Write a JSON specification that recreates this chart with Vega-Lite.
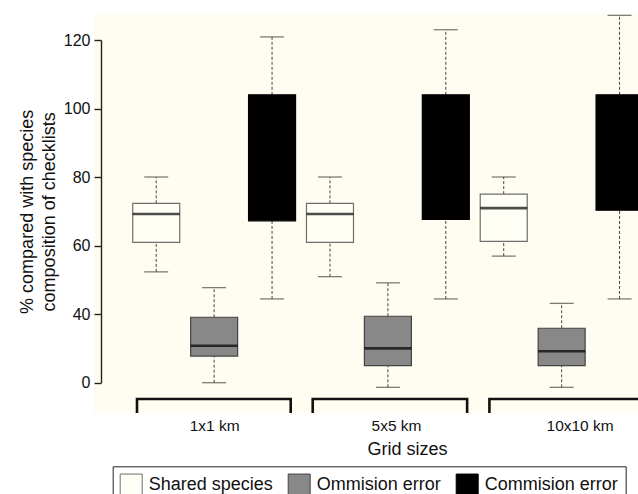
{
  "$schema": "https://vega.github.io/schema/vega-lite/v6.json",
  "width": 544,
  "height": 400,
  "autosize": {"type": "none"},
  "padding": {"left": 94, "top": 13, "right": 0, "bottom": 81},
  "background": "white",
  "config": {
    "font": "Liberation Sans",
    "view": {"fill": "#fffdf1", "stroke": null}
  },
  "datasets": {
    "stats": [
      {"grid": "1x1 km", "type": "Shared species", "pos": 1, "lower": 52.3, "q1": 60.9, "median": 69.2, "q3": 72.3, "upper": 80.0},
      {"grid": "1x1 km", "type": "Ommision error", "pos": 2, "lower": 0.0, "q1": 15.5, "median": 21.5, "q3": 38.1, "upper": 47.7},
      {"grid": "1x1 km", "type": "Commision error", "pos": 3, "lower": 44.4, "q1": 67.2, "median": 86.0, "q3": 104.0, "upper": 120.9},
      {"grid": "5x5 km", "type": "Shared species", "pos": 4, "lower": 50.9, "q1": 60.9, "median": 69.2, "q3": 72.3, "upper": 80.0},
      {"grid": "5x5 km", "type": "Ommision error", "pos": 5, "lower": -2.7, "q1": 9.9, "median": 20.0, "q3": 38.7, "upper": 49.1},
      {"grid": "5x5 km", "type": "Commision error", "pos": 6, "lower": 44.4, "q1": 67.6, "median": 86.0, "q3": 104.0, "upper": 123.0},
      {"grid": "10x10 km", "type": "Shared species", "pos": 7, "lower": 56.9, "q1": 61.2, "median": 70.9, "q3": 75.0, "upper": 80.0},
      {"grid": "10x10 km", "type": "Ommision error", "pos": 8, "lower": -2.7, "q1": 9.9, "median": 18.3, "q3": 31.7, "upper": 43.1},
      {"grid": "10x10 km", "type": "Commision error", "pos": 9, "lower": 44.4, "q1": 70.3, "median": 88.0, "q3": 104.0, "upper": 127.2}
    ],
    "groups": [
      {"grid": "1x1 km", "pos": 0.668, "end": 3.322},
      {"grid": "5x5 km", "pos": 3.702, "end": 6.368},
      {"grid": "10x10 km", "pos": 6.753, "end": 9.407}
    ]
  },
  "encoding": {
    "x": {
      "field": "pos",
      "type": "quantitative",
      "scale": {"domain": [0.012, 9.232], "nice": false, "zero": false},
      "axis": {
        "values": [2, 5.14, 8.31],
        "labelExpr": "datum.value < 3 ? '1x1 km' : datum.value < 6 ? '5x5 km' : '10x10 km'",
        "ticks": false,
        "domain": false,
        "grid": false,
        "labelFlush": false,
        "labelOverlap": false,
        "labelFontSize": 15.5,
        "labelColor": "#111",
        "labelBaseline": "middle",
        "labelPadding": 12,
        "title": "Grid sizes",
        "titleFontSize": 18,
        "titleFontWeight": "normal",
        "titleColor": "#111",
        "titleX": 313,
        "titleY": 36,
        "titleBaseline": "middle"
      }
    }
  },
  "layer": [
    {
      "data": {"name": "groups"},
      "mark": {"type": "rect", "fill": null, "fillOpacity": 0, "stroke": "#111", "strokeWidth": 2.6, "clip": true},
      "encoding": {
        "x2": {"field": "end"},
        "y": {"datum": -9.5, "type": "quantitative"},
        "y2": {"datum": -30}
      }
    },
    {
      "data": {"name": "stats"},
      "layer": [
        {
          "mark": {"type": "rule", "color": "#444", "strokeWidth": 1, "strokeDash": [3, 2]},
          "encoding": {
            "y": {
              "field": "lower",
              "type": "quantitative",
              "scale": {"domain": [0, 40, 120], "range": [369.7, 301, 27], "nice": false, "zero": false},
              "axis": {
                "values": [0, 40, 60, 80, 100, 120],
                "offset": -7,
                "grid": false,
                "tickSize": 7,
                "tickWidth": 1.4,
                "tickColor": "#222",
                "domainColor": "#222",
                "domainWidth": 1.4,
                "labelPadding": 4,
                "labelFontSize": 16,
                "labelColor": "#111",
                "title": ["% compared with species", "composition of checklists"],
                "titleFontSize": 18,
                "titleFontWeight": "normal",
                "titleColor": "#111",
                "titleLineHeight": 21.7,
                "titlePadding": 5
              }
            },
            "y2": {"field": "q1"}
          }
        },
        {
          "mark": {"type": "rule", "color": "#444", "strokeWidth": 1, "strokeDash": [3, 2]},
          "encoding": {
            "y": {"field": "q3", "type": "quantitative"},
            "y2": {"field": "upper"}
          }
        },
        {
          "mark": {"type": "tick", "orient": "horizontal", "size": 24, "thickness": 1.3, "color": "#444"},
          "encoding": {"y": {"field": "lower", "type": "quantitative"}}
        },
        {
          "mark": {"type": "tick", "orient": "horizontal", "size": 24, "thickness": 1.3, "color": "#444"},
          "encoding": {"y": {"field": "upper", "type": "quantitative"}}
        },
        {
          "mark": {"type": "bar", "size": 47, "strokeWidth": 1.2, "opacity": 1},
          "encoding": {
            "y": {"field": "q1", "type": "quantitative"},
            "y2": {"field": "q3"},
            "fill": {
              "field": "type",
              "type": "nominal",
              "scale": {"domain": ["Shared species", "Ommision error", "Commision error"], "range": ["#fffff6", "#888888", "#000000"]},
              "legend": {
                "orient": "none",
                "legendX": 18.7,
                "legendY": 453.3,
                "direction": "horizontal",
                "title": null,
                "strokeColor": "#222",
                "padding": 7,
                "symbolType": "square",
                "symbolSize": 484,
                "symbolStrokeColor": "#222",
                "symbolStrokeWidth": 1,
                "symbolOpacity": 1,
                "labelFontSize": 18,
                "labelColor": "#111",
                "labelOffset": 6,
                "labelLimit": 0,
                "columnPadding": 12
              }
            },
            "stroke": {
              "field": "type",
              "type": "nominal",
              "scale": {"domain": ["Shared species", "Ommision error", "Commision error"], "range": ["#6e6e6e", "#444444", "#000000"]},
              "legend": null
            }
          }
        },
        {
          "mark": {"type": "tick", "orient": "horizontal", "size": 47, "thickness": 2.6, "color": "#000"},
          "encoding": {"y": {"field": "median", "type": "quantitative"}}
        }
      ]
    }
  ]
}
